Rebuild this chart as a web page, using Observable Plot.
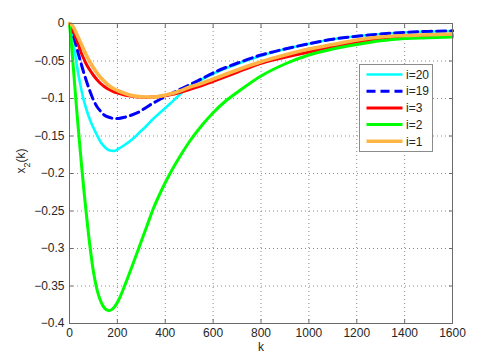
<!DOCTYPE html>
<html><head><meta charset="utf-8">
<script src="https://cdn.jsdelivr.net/npm/d3@7"></script>
<script src="https://cdn.jsdelivr.net/npm/@observablehq/plot@0.6"></script>
<style>
html,body{margin:0;padding:0;background:#fff;}
#chart{width:480px;height:356px;position:relative;}
</style></head><body><div id="chart"></div>
<script>
// ---- data ----
const k = [0,10,20,30,40,50,60,70,85,100,115,130,145,165,185,205,230,260,290,320,350,385,420,460,500,550,600,650,700,800,900,1000,1100,1200,1300,1400,1500,1600];
const yI20 = [0,-0.012,-0.032,-0.054,-0.073,-0.089,-0.103,-0.114,-0.128,-0.139,-0.149,-0.158,-0.164,-0.169,-0.170,-0.167,-0.162,-0.155,-0.146,-0.137,-0.127,-0.117,-0.107,-0.095,-0.084,-0.075,-0.067,-0.060,-0.054,-0.043,-0.034,-0.027,-0.021,-0.017,-0.014,-0.012,-0.0108,-0.010];
const yI19 = [0,-0.010,-0.020,-0.032,-0.044,-0.055,-0.066,-0.076,-0.090,-0.102,-0.111,-0.117,-0.122,-0.125,-0.1265,-0.1265,-0.125,-0.122,-0.118,-0.112,-0.106,-0.100,-0.094,-0.088,-0.082,-0.074,-0.066,-0.059,-0.053,-0.042,-0.034,-0.027,-0.021,-0.017,-0.014,-0.012,-0.0105,-0.0098];
const yI3 = [0,-0.006,-0.014,-0.022,-0.031,-0.040,-0.047,-0.054,-0.062,-0.069,-0.075,-0.080,-0.084,-0.088,-0.091,-0.093,-0.0955,-0.097,-0.098,-0.0985,-0.098,-0.097,-0.095,-0.092,-0.088,-0.083,-0.077,-0.071,-0.065,-0.053,-0.045,-0.038,-0.031,-0.025,-0.021,-0.018,-0.016,-0.015];
const yI2 = [0,-0.035,-0.075,-0.115,-0.152,-0.188,-0.222,-0.253,-0.296,-0.331,-0.355,-0.370,-0.379,-0.383,-0.379,-0.369,-0.350,-0.325,-0.299,-0.273,-0.247,-0.222,-0.200,-0.178,-0.158,-0.137,-0.119,-0.104,-0.092,-0.070,-0.054,-0.042,-0.034,-0.028,-0.023,-0.020,-0.019,-0.018];
const yI1 = [0,-0.002,-0.007,-0.014,-0.021,-0.028,-0.035,-0.042,-0.051,-0.059,-0.066,-0.072,-0.077,-0.083,-0.087,-0.090,-0.093,-0.096,-0.0975,-0.098,-0.098,-0.0965,-0.094,-0.090,-0.085,-0.080,-0.074,-0.068,-0.062,-0.051,-0.042,-0.034,-0.028,-0.022,-0.018,-0.016,-0.015,-0.014];
const seriesNames = ["i=20","i=19","i=3","i=2","i=1"];
const seriesColors = ["#00ffff","#0000ff","#ff0000","#00ff00","#ffb545"];
const xTicks = [0,200,400,600,800,1000,1200,1400,1600];
const yTicks = [0,-0.05,-0.1,-0.15,-0.2,-0.25,-0.3,-0.35,-0.4];
const yTickLabels = ["0","\u22120.05","\u22120.1","\u22120.15","\u22120.2","\u22120.25","\u22120.3","\u22120.35","\u22120.4"];
const xLabel = "k";
const yLabel = "x2(k)";

// ---- styles ----
const seriesY = [yI20, yI19, yI3, yI2, yI1];
const styles = [{w:2.6,dash:null},{w:3,dash:"9,5"},{w:3,dash:null},{w:3,dash:null},{w:3.6,dash:null}];
const font = "'Liberation Sans', Arial, Helvetica, sans-serif";
const axisGray = "#6b6b6b";
const textColor = "#262626";

const rows = seriesY.map((ys,i)=>k.map((kk,j)=>({k:kk, v:ys[j], s:seriesNames[i]})));

const chart = Plot.plot({
  width:480, height:356,
  marginLeft:69, marginRight:28, marginTop:23, marginBottom:33,
  style:{fontFamily:font, fontSize:"12px", color:textColor, background:"#fff", overflow:"visible"},
  x:{domain:[0,1600]},
  y:{domain:[-0.4,0]},
  marks:[
    Plot.gridX(xTicks,{stroke:"#8c8c8c", strokeOpacity:1, strokeDasharray:"1,3"}),
    Plot.gridY(yTicks,{stroke:"#8c8c8c", strokeOpacity:1, strokeDasharray:"1,3"}),
    ...rows.map((r,i)=>Plot.line(r,{x:"k", y:"v", stroke:seriesColors[i], strokeWidth:styles[i].w, strokeDasharray:styles[i].dash, curve:"monotone-x"})),
    Plot.frame({stroke:axisGray}),
    Plot.axisX(xTicks,{anchor:"bottom", tickSize:-4, tickPadding:9, label:null, stroke:axisGray, fill:textColor, tickFormat:d=>String(d)}),
    Plot.axisX(xTicks,{anchor:"top", tickSize:-4, label:null, stroke:axisGray, tickFormat:()=>""}),
    Plot.axisY(yTicks,{anchor:"left", tickSize:-4, tickPadding:9, label:null, stroke:axisGray, fill:textColor, tickFormat:d=>yTickLabels[yTicks.indexOf(d)]}),
    Plot.axisY(yTicks,{anchor:"right", tickSize:-4, label:null, stroke:axisGray, tickFormat:()=>""}),
    Plot.text([xLabel],{frameAnchor:"bottom", dy:24, lineAnchor:"middle", text:d=>d, fill:textColor}),
    Plot.text([yLabel],{frameAnchor:"left", dx:-48.5, rotate:-90, lineAnchor:"middle", text:d=>d, fill:textColor})
  ]
});

document.getElementById("chart").appendChild(chart);

const svg = d3.select(chart);
// subscript in y label
svg.selectAll("text").filter(function(){return this.textContent===yLabel;}).each(function(){
  const t = d3.select(this);
  t.text(null);
  t.append("tspan").text("x");
  t.append("tspan").attr("baseline-shift","sub").attr("font-size","9px").text("2");
  t.append("tspan").text("(k)");
});

// legend
const lg = svg.append("g").attr("transform","translate(359.5,64.5)").attr("text-anchor","start");
lg.append("rect").attr("width",73).attr("height",87).attr("fill","#fff").attr("stroke","#8c8c8c");
seriesNames.forEach((name,i)=>{
  const yy = 10 + i*16.7;
  lg.append("line").attr("x1",7).attr("x2",43).attr("y1",yy).attr("y2",yy)
    .attr("stroke",seriesColors[i]).attr("stroke-width",styles[i].w)
    .attr("stroke-dasharray",styles[i].dash);
  lg.append("text").attr("x",46.5).attr("y",yy).attr("dy","0.35em").attr("text-anchor","start")
    .attr("font-family",font).attr("font-size",12).attr("fill",textColor).text(name);
});
</script>
</body></html>
